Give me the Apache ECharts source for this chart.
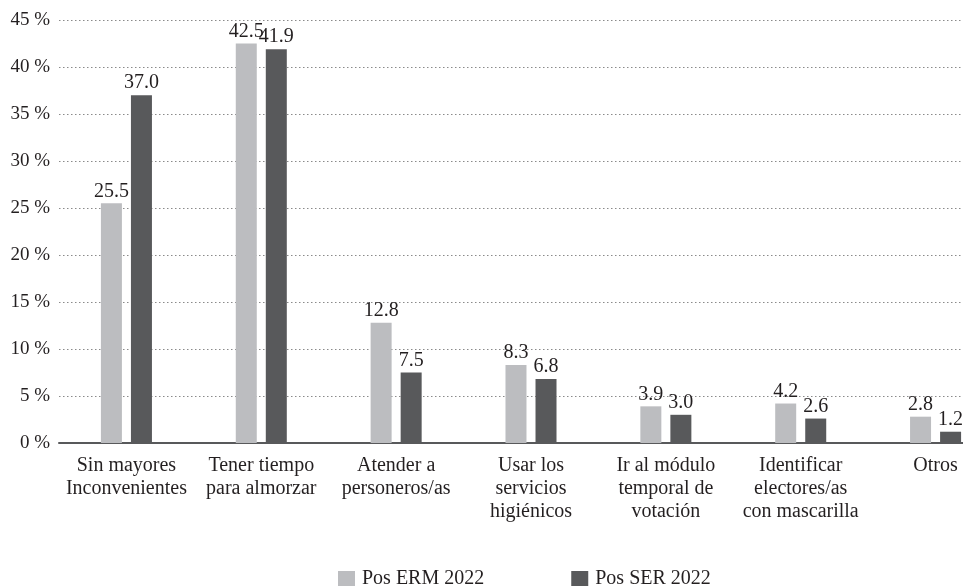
<!DOCTYPE html>
<html>
<head>
<meta charset="utf-8">
<script src="https://cdn.jsdelivr.net/npm/echarts@6/dist/echarts.min.js"></script>
<style>
  html, body { margin: 0; padding: 0; background: #ffffff; }
  #chart { width: 963px; height: 586px; }
</style>
</head>
<body>
<div id="chart"></div>
<script>
// Categories (line breaks as printed under each pair of bars)
var categories = [
  'Sin mayores\nInconvenientes',
  'Tener tiempo\npara almorzar',
  'Atender a\npersoneros/as',
  'Usar los\nservicios\nhigiénicos',
  'Ir al módulo\ntemporal de\nvotación',
  'Identificar\nelectores/as\ncon mascarilla',
  'Otros'
];

var seriesNames = ['Pos ERM 2022', 'Pos SER 2022'];
var posERM = [25.5, 42.5, 12.8, 8.3, 3.9, 4.2, 2.8];
var posSER = [37.0, 41.9, 7.5, 6.8, 3.0, 2.6, 1.2];

var yTicks = { min: 0, max: 45, interval: 5 };

var FONT = '"Liberation Serif", "Times New Roman", serif';
var TEXT = '#231f20';
var LIGHT = '#bcbdc0';
var DARK = '#58595b';

var chart = echarts.init(document.getElementById('chart'), null, { renderer: 'canvas' });

function valueLabel() {
  return {
    show: true,
    position: 'top',
    distance: 2,
    color: TEXT,
    fontFamily: FONT,
    fontSize: 20,
    formatter: function (p) { return p.value.toFixed(1); }
  };
}

chart.setOption({
  animation: false,
  backgroundColor: '#ffffff',
  textStyle: { fontFamily: FONT, color: TEXT },
  // the plot runs past the right edge of the canvas, the last pair sits near the border
  grid: { left: 59, top: 20, right: -40, height: 423, containLabel: false, outerBoundsMode: 'none' },
  legend: {
    data: seriesNames,
    left: 333,
    top: 564,
    itemWidth: 17,
    itemHeight: 16,
    itemGap: 87,
    icon: 'rect',
    textStyle: { fontFamily: FONT, fontSize: 20, color: TEXT, padding: [0, 0, 0, 2] }
  },
  xAxis: {
    type: 'category',
    data: categories,
    axisLine: { lineStyle: { color: '#58595b', width: 2 } },
    axisTick: { show: false },
    axisLabel: {
      interval: 0,
      margin: 11,
      fontFamily: FONT,
      fontSize: 20,
      lineHeight: 23,
      color: TEXT,
      align: 'center'
    }
  },
  yAxis: {
    type: 'value',
    min: yTicks.min,
    max: yTicks.max,
    interval: yTicks.interval,
    axisLine: { show: false },
    axisTick: { show: false },
    splitLine: { lineStyle: { color: '#8a8a8a', type: [1.5, 2.5], width: 1 } },
    axisLabel: {
      margin: 9,
      fontFamily: FONT,
      fontSize: 19,
      color: TEXT,
      formatter: function (v) { return v + ' %'; }
    }
  },
  series: [
    {
      name: seriesNames[0],
      type: 'bar',
      data: posERM,
      barWidth: 21,
      barGap: '43%',
      itemStyle: { color: LIGHT },
      label: valueLabel()
    },
    {
      name: seriesNames[1],
      type: 'bar',
      data: posSER,
      barWidth: 21,
      barGap: '43%',
      itemStyle: { color: DARK },
      label: valueLabel()
    }
  ]
});
</script>
</body>
</html>
